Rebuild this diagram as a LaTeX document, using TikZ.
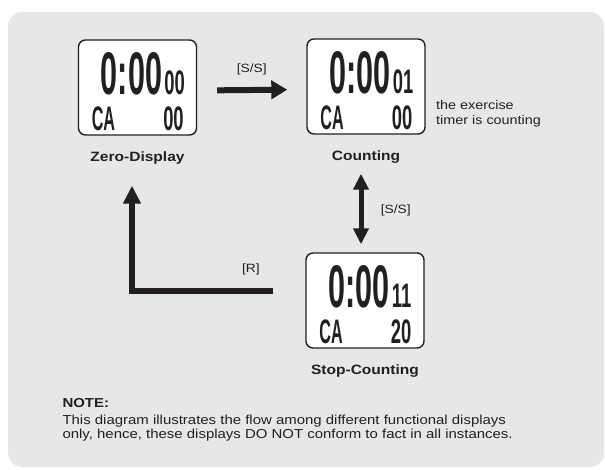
\documentclass[tikz,border=0pt]{standalone}
\usepackage{fontspec}
\setmainfont{Liberation Sans}[FakeStretch=1.15]
\usepackage{graphicx}
\usetikzlibrary{arrows.meta,positioning}

\definecolor{panel}{HTML}{E6E7E8}
\definecolor{ink}{HTML}{231F20}

\tikzset{
  lcd/.style={draw=ink,fill=white,line width=1.4pt,rounded corners=7pt,minimum width=118pt,minimum height=95pt},
  mode/.style={font=\bfseries\fontsize{13.5}{16}\selectfont,text=ink},
  key/.style={font=\fontsize{12}{14}\selectfont,text=ink},
  seg/.style={inner sep=0pt,text=ink,font=\bfseries},
  flow/.style={draw=ink,line width=6pt,line join=miter},
}

% digits of one display: node, seconds, lap number
\newcommand{\lcdface}[3]{%
  \node[seg] (#1-time) at ([shift={(-6,14)}]#1.center) {\fontsize{32}{32}\selectfont\scalebox{0.83}[1.88]{0:00}};
  \node[seg,anchor=south west] (#1-sec) at ([xshift=2pt]#1-time.south east) {\fontsize{20}{20}\selectfont\scalebox{0.8}[1.7]{#2}};
  \node[seg] (#1-ca) at ([shift={(-34,-31)}]#1.center) {\fontsize{20}{20}\selectfont\scalebox{0.7}[1.7]{CA}};
  \node[seg] (#1-num) at ([shift={(36,-31)}]#1.center) {\fontsize{20}{20}\selectfont\scalebox{0.8}[1.7]{#3}};
}

\begin{document}
\begin{tikzpicture}[x=1pt,y=1pt]
  \useasboundingbox (0,0) rectangle (605,469);
  \fill[panel,rounded corners=14pt] (8,2) rectangle (604,457);

  % the three displays
  \node[lcd] (zero) at (137.5,381.5) {};
  \node[lcd] (count) at (366,382.5) {};
  \node[lcd] (stop) at (365,168.5) {};
  \lcdface{zero}{00}{00}
  \lcdface{count}{01}{00}
  \lcdface{stop}{11}{20}

  \node[mode,below=12pt of zero] (zero-label) {Zero-Display};
  \node[mode,below=12pt of count] (count-label) {Counting};
  \node[mode,below=12pt of stop] (stop-label) {Stop-Counting};
  \node[key,right=7pt of count,yshift=-27pt,align=left,font=\fontsize{12.5}{15}\selectfont] (count-note) {the exercise\\timer is counting};

  % key presses
  \draw[flow,-{Triangle[length=16pt,width=18pt]},shorten <=20pt,shorten >=19pt]
    ([yshift=-3pt]zero.east) -- node[key,above=9pt] {[S/S]} ([yshift=-3pt]count.west);
  \draw[flow,line width=5pt,{Triangle[length=16pt,width=15pt]}-{Triangle[length=16pt,width=15pt]},shorten <=39pt,shorten >=8pt]
    ([xshift=-5pt]count.south) -- node[key,pos=0.64,right=14pt] {[S/S]} ([xshift=-4pt]stop.north);
  \draw[flow,-{Triangle[length=18pt,width=17pt]},shorten <=32pt,shorten >=50pt]
    ([yshift=9.5pt]stop.west) -| node[key,pos=0.157,above=10pt] {[R]} ([xshift=-5.5pt]zero.south);

  \node[anchor=north west,align=left,text=ink,font=\fontsize{13}{14}\selectfont] (note) at (59,74)
    {{\bfseries NOTE:}\\[3pt]
     This diagram illustrates the flow among different functional displays\\
     only, hence, these displays DO NOT conform to fact in all instances.};
\end{tikzpicture}
\end{document}
